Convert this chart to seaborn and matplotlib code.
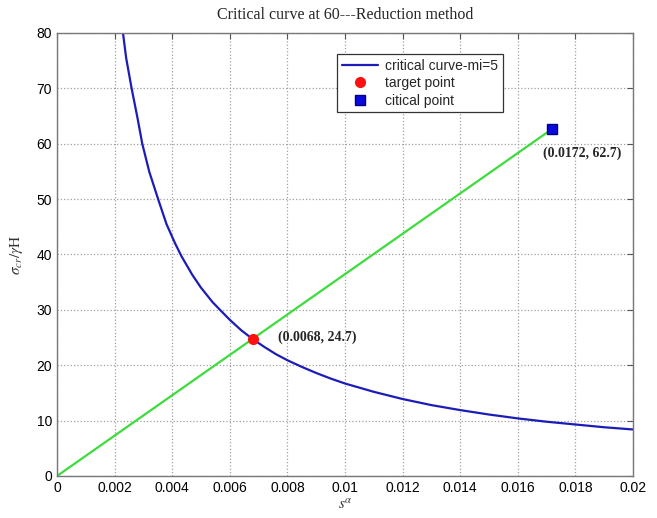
import numpy as np
import pandas as pd
import matplotlib
matplotlib.use("Agg")
import matplotlib.pyplot as plt
import seaborn as sns

# valori
curve_x = [0.00229, 0.0024, 0.00259, 0.0028, 0.00296, 0.0032, 0.00351, 0.0038,
           0.0041, 0.00433, 0.0047, 0.0050, 0.0054, 0.00566, 0.0060, 0.0064,
           0.0068, 0.0072, 0.0076, 0.0080, 0.0085, 0.0090, 0.0095, 0.0100,
           0.0110, 0.0120, 0.0130, 0.0140, 0.0150, 0.0160, 0.0170, 0.0180,
           0.0190, 0.0200]
curve_y = [80, 75.5, 70, 64.5, 60, 55, 50, 45.5,
           42, 39.6, 36.3, 34.0, 31.4, 30.0, 28.2, 26.3,
           24.7, 23.3, 22.0, 20.9, 19.7, 18.6, 17.6, 16.7,
           15.2, 13.9, 12.8, 11.9, 11.1, 10.4, 9.8, 9.3,
           8.8, 8.4]
line_x = [0.0, 0.0172]
line_y = [0.0, 62.7]
target = (0.0068, 24.7)
critical = (0.0172, 62.7)

x_ticks = [0, 0.002, 0.004, 0.006, 0.008, 0.01, 0.012, 0.014, 0.016, 0.018, 0.02]
x_tick_labels = ['0', '0.002', '0.004', '0.006', '0.008', '0.01', '0.012',
                 '0.014', '0.016', '0.018', '0.02']
y_ticks = [0, 10, 20, 30, 40, 50, 60, 70, 80]

sns.set_style("white")
plt.rcParams['font.family'] = ['Liberation Sans', 'DejaVu Sans']
plt.rcParams['mathtext.fontset'] = 'stix'

curve = pd.DataFrame({'x': curve_x, 'y': curve_y})
line = pd.DataFrame({'x': line_x, 'y': line_y})

fig = plt.figure(figsize=(6.57, 5.18), dpi=100)
ax = fig.add_axes([0.0868, 0.0811, 0.8767, 0.8552])

sns.lineplot(data=line, x='x', y='y', ax=ax, color='#3ddc3d', linewidth=1.6, sort=False)
sns.lineplot(data=curve, x='x', y='y', ax=ax, color='#1c1cb8', linewidth=1.6,
             sort=False, label='critical curve-mi=5')
ax.plot([target[0]], [target[1]], 'o', color='#ff1010', markersize=7, label='target point', zorder=5)
ax.plot([critical[0]], [critical[1]], 's', color='#0a0ae0', markeredgecolor='#000080',
        markersize=7, label='citical point', zorder=5)

ax.annotate('(%.4f, %.1f)' % target, xy=(0.00767, 25.1), fontsize=10, fontweight='bold',
            family='Liberation Serif', va='center', ha='left')
ax.annotate('(%.4f, %.1f)' % critical, xy=(0.01688, 58.3), fontsize=10, fontweight='bold',
            family='Liberation Serif', va='center', ha='left', annotation_clip=False)

ax.set_xlim(0, 0.02)
ax.set_ylim(0, 80)
ax.set_xticks(x_ticks)
ax.set_xticklabels(x_tick_labels)
ax.set_yticks(y_ticks)
ax.grid(True, linestyle=':', color='#a0a0a0', linewidth=0.9)
ax.tick_params(direction='in', length=4, top=True, right=True, labelsize=10,
               colors='#555555', labelcolor='black')
for s in ax.spines.values():
    s.set_color('#777777')
    s.set_linewidth(1.0)

ax.set_title('Critical curve at 60---Reduction method', family='Liberation Serif',
             fontsize=11.5, pad=10)
ax.set_xlabel(r'$s^{\alpha}$', fontsize=11, labelpad=2, color='#333333')
ax.set_ylabel(r'$\sigma_{cr}/\gamma\mathrm{H}$', fontsize=11, labelpad=8, color='#333333')

leg = ax.legend(loc='upper left', bbox_to_anchor=(0.486, 0.953), fancybox=False,
                framealpha=1, edgecolor='#333333', fontsize=10, borderpad=0.35,
                handlelength=2.6, handletextpad=0.5, labelspacing=0.25, borderaxespad=0)
leg.get_frame().set_linewidth(0.9)

fig.savefig('out.png', dpi=100)
